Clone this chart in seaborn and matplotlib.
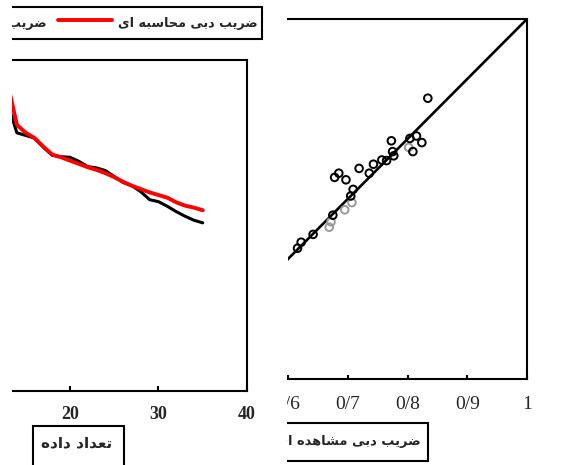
import numpy as np
import pandas as pd
import matplotlib
matplotlib.use("Agg")
import matplotlib.pyplot as plt
import seaborn as sns
from matplotlib.font_manager import FontProperties, findfont
from matplotlib import ft2font
from matplotlib.patches import Rectangle

# ---------------- data ----------------
data_count = [13, 14, 15, 16, 17, 18, 19, 20, 21, 22, 23, 24,
              25, 26, 27, 28, 29, 30, 31, 32, 33, 34, 35]
observed_cd = [0.932, 0.890, 0.886, 0.882, 0.868, 0.856, 0.854, 0.853, 0.847, 0.839, 0.837, 0.833,
               0.824, 0.815, 0.810, 0.801, 0.789, 0.786, 0.779, 0.771, 0.764, 0.758, 0.754]
computed_cd = [0.962, 0.902, 0.890, 0.882, 0.869, 0.857, 0.853, 0.848, 0.843, 0.838, 0.834, 0.829,
               0.823, 0.816, 0.810, 0.805, 0.800, 0.796, 0.792, 0.785, 0.780, 0.777, 0.773]
count_ticks = [20, 30, 40]
count_ticklabels = ["20", "30", "40"]

obs_black = [0.834, 0.773, 0.804, 0.815, 0.824, 0.809, 0.775, 0.777, 0.765, 0.757, 0.743,
             0.719, 0.736, 0.685, 0.678, 0.697, 0.709, 0.705, 0.675, 0.642, 0.622, 0.616]
calc_black = [0.868, 0.797, 0.801, 0.805, 0.794, 0.779, 0.779, 0.772, 0.764, 0.765, 0.758,
              0.751, 0.743, 0.743, 0.736, 0.732, 0.716, 0.705, 0.673, 0.641, 0.628, 0.618]
obs_gray = [0.802, 0.707, 0.695, 0.669, 0.672]
calc_gray = [0.786, 0.694, 0.682, 0.653, 0.662]
identity_line = [0.4, 1.0]
cd_ticks = [0.6, 0.7, 0.8, 0.9, 1.0]
cd_ticklabels = ["0/6", "0/7", "0/8", "0/9", "1"]

legend_observed = "ضریب دبی مشاهده ای"
legend_computed = "ضریب دبی محاسبه ای"
xlabel_count = "تعداد داده"
xlabel_observed = "ضریب دبی مشاهده ای"

# ---------------- Persian shaping (presentation forms, visual order) ----------------
_FORMS = {
    "ا": ("\uFE8D", "\uFE8E", None, None),
    "ب": ("\uFE8F", "\uFE90", "\uFE91", "\uFE92"),
    "ت": ("\uFE95", "\uFE96", "\uFE97", "\uFE98"),
    "ح": ("\uFEA1", "\uFEA2", "\uFEA3", "\uFEA4"),
    "د": ("\uFEA9", "\uFEAA", None, None),
    "ر": ("\uFEAD", "\uFEAE", None, None),
    "س": ("\uFEB1", "\uFEB2", "\uFEB3", "\uFEB4"),
    "ش": ("\uFEB5", "\uFEB6", "\uFEB7", "\uFEB8"),
    "ض": ("\uFEBD", "\uFEBE", "\uFEBF", "\uFEC0"),
    "ع": ("\uFEC9", "\uFECA", "\uFECB", "\uFECC"),
    "م": ("\uFEE1", "\uFEE2", "\uFEE3", "\uFEE4"),
    "ه": ("\uFEE9", "\uFEEA", "\uFEEB", "\uFEEC"),
    "ی": ("\uFBFC", "\uFBFD", "\uFBFE", "\uFBFF"),
}
_FALLBACK = {"\uFBFC": "\uFEEF", "\uFBFD": "\uFEF0", "\uFBFE": "\uFEF3", "\uFBFF": "\uFEF4"}


def _charmap(fp):
    return ft2font.FT2Font(findfont(fp)).get_charmap()


fa_weight = "bold"
cmap = _charmap(FontProperties(family="DejaVu Sans", weight="bold"))
if 0xFEBF not in cmap:
    fa_weight = "normal"
    cmap = _charmap(FontProperties(family="DejaVu Sans", weight="normal"))


def fa_font(size):
    return FontProperties(family="DejaVu Sans", weight=fa_weight, size=size)


def shape(text):
    chars = list(text)
    out = []
    for i, ch in enumerate(chars):
        if ch not in _FORMS:
            out.append(ch)
            continue
        prev_c = chars[i - 1] if i > 0 else None
        next_c = chars[i + 1] if i < len(chars) - 1 else None
        join_prev = prev_c in _FORMS and _FORMS[prev_c][2] is not None
        join_next = _FORMS[ch][2] is not None and next_c in _FORMS
        iso, fin, ini, med = _FORMS[ch]
        if join_prev and join_next:
            g = med
        elif join_prev:
            g = fin
        elif join_next:
            g = ini
        else:
            g = iso
        if ord(g) not in cmap:
            g = _FALLBACK.get(g, ch)
        out.append(g)
    return "".join(reversed(out))


# ---------------- figure ----------------
sns.set_theme(style="white")
W, H = 576, 465
fig = plt.figure(figsize=(W / 100, H / 100), dpi=100)


def fx(px):
    return px / W


def fy(py):
    return 1 - py / H


# left panel
ax1 = fig.add_axes([fx(11.5), fy(391), (247 - 11.5) / W, (391 - 60) / H])
sns.lineplot(x=data_count, y=observed_cd, color="black", lw=2.2, ax=ax1)
sns.lineplot(x=data_count, y=computed_cd, color="#ff0000", lw=2.8, ax=ax1)
ax1.set_xlim(13.39, 40)
ax1.set_ylim(0.5, 1.0)
ax1.set_xticks(count_ticks)
ax1.set_xticklabels(count_ticklabels, fontfamily="Liberation Serif", fontweight="bold", fontsize=13)
ax1.set_yticks([])
ax1.tick_params(axis="x", direction="in", length=3.6, width=1.5, color="black", pad=10.5, bottom=True)
ax1.spines["left"].set_visible(False)
for s in ["top", "right", "bottom"]:
    ax1.spines[s].set_linewidth(1.5)
    ax1.spines[s].set_color("black")

# right panel
ax2 = fig.add_axes([fx(288), fy(379), (527 - 288) / W, (379 - 19) / H])
sns.lineplot(x=identity_line, y=identity_line, color="black", lw=1.9, ax=ax2)
sns.scatterplot(x=obs_gray, y=calc_gray, marker="o", s=30, facecolor="none",
                edgecolor="#9a9a9a", linewidth=1.4, ax=ax2, zorder=3)
sns.scatterplot(x=obs_black, y=calc_black, marker="o", s=30, facecolor="none",
                edgecolor="black", linewidth=1.4, ax=ax2, zorder=4)
ax2.set_xlim(0.6, 1.0)
ax2.set_ylim(0.4, 1.0)
ax2.set_xticks(cd_ticks)
ax2.set_xticklabels(cd_ticklabels, fontfamily="Liberation Serif", fontsize=14)
ax2.set_yticks([])
ax2.tick_params(axis="x", direction="in", length=3, width=1.5, color="black", pad=12, bottom=True)
ax2.spines["left"].set_visible(False)
for s in ["top", "right", "bottom"]:
    ax2.spines[s].set_linewidth(1.5)
    ax2.spines[s].set_color("black")

# legend (RTL entries)
leg = fig.legend(handles=[ax1.lines[0], ax1.lines[1]],
                 labels=[shape(legend_observed), shape(legend_computed)],
                 ncol=2, loc="upper right", bbox_to_anchor=(fx(262), fy(7.5)),
                 bbox_transform=fig.transFigure, frameon=True, fancybox=False,
                 edgecolor="black", framealpha=1, borderaxespad=0, prop=fa_font(9.2),
                 handlelength=4.2, handleheight=2.35, handletextpad=0.47,
                 columnspacing=0.9, borderpad=0.35)
leg.get_frame().set_linewidth(1.5)

# x-label boxes
fig.add_artist(Rectangle((fx(33), fy(480)), (124 - 33) / W, (480 - 426) / H,
                         transform=fig.transFigure, fill=False, ec="black", lw=1.5))
fig.text(fx(77), fy(443), shape(xlabel_count), ha="center", va="center", fontproperties=fa_font(11))
fig.add_artist(Rectangle((fx(268), fy(461)), (428 - 268) / W, (461 - 423) / H,
                         transform=fig.transFigure, fill=False, ec="black", lw=1.5))
fig.text(fx(421), fy(441.5), shape(xlabel_observed), ha="right", va="center", fontproperties=fa_font(9.4))

# cropped margins of the original composite
fig.add_artist(Rectangle((0, 0), fx(11.5), 1, transform=fig.transFigure,
                         facecolor="white", edgecolor="none", zorder=100))
fig.add_artist(Rectangle((fx(263.5), 0), (286.5 - 263.5) / W, 1, transform=fig.transFigure,
                         facecolor="white", edgecolor="none", zorder=100))

fig.savefig("out.png", dpi=100)
